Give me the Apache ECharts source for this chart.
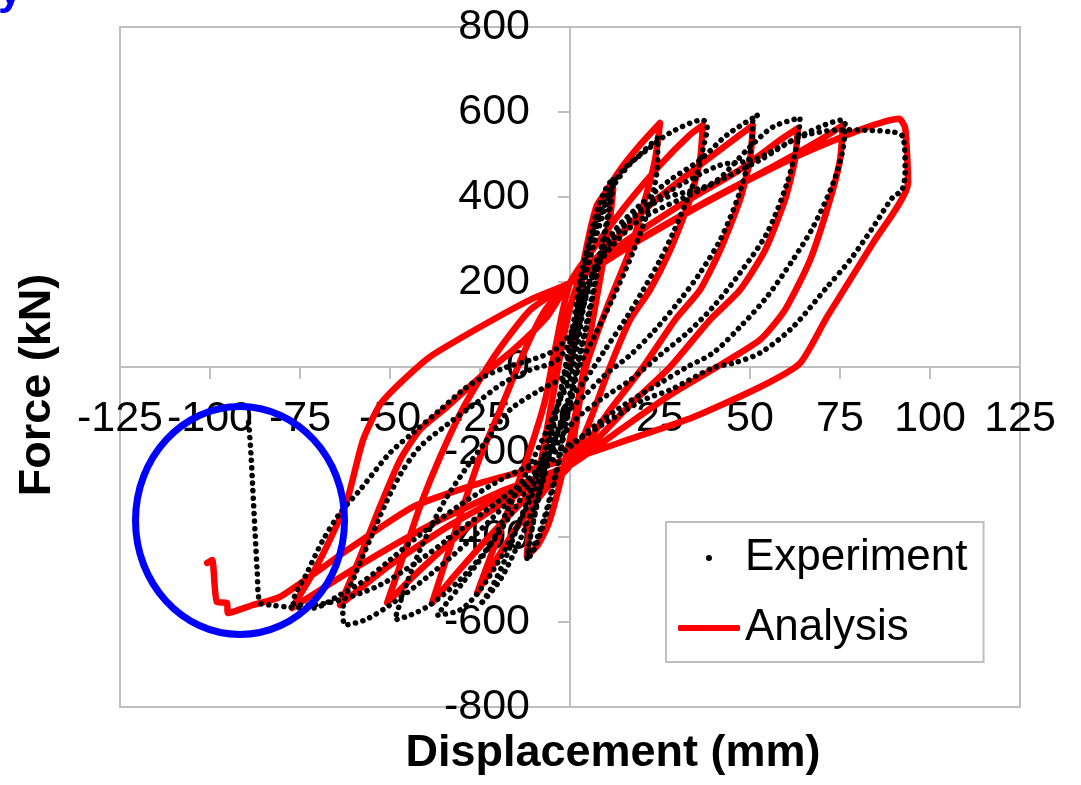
<!DOCTYPE html>
<html>
<head>
<meta charset="utf-8">
<script src="https://cdn.jsdelivr.net/npm/echarts@6/dist/echarts.min.js"></script>
<style>
html,body{margin:0;padding:0;background:#fff;}
#main{width:1081px;height:785px;}
</style>
</head>
<body>
<div id="main"></div>
<script>
// Axis ticks
const xTicks = [-125, -100, -75, -50, -25, 0, 25, 50, 75, 100, 125];
const yTicks = [-800, -600, -400, -200, 0, 200, 400, 600, 800];

// Experiment (displacement mm, force kN)
const experiment = [
  [0,0],[2,120],[4,240],[6,320],[8,380],[10,420],[12,445],
  [11,380],[8,250],[5,120],[2,0],[-1,-120],[-4,-250],[-7,-350],[-10,-420],[-12,-450],
  [-11,-400],[-8,-280],[-5,-160],[-2,-40],[1,80],[4,200],[7,300],[10,380],[12,430],
  [11,370],[8,240],[5,110],[2,-10],[-1,-130],[-4,-260],[-7,-360],[-10,-430],[-12,-455],
  [-11,-400],[-8,-270],[-5,-150],[-2,-30],[0,60],
  [1.1,111],[2.8,205],[5.6,299],[9.7,393],[15.3,464],[20.8,511],[24.4,539],
  [24.2,464],[21.7,369],[17.2,264],[11.7,158],[6.9,75],[2.8,5],[-0.6,-78],[-4.2,-172],[-8.3,-289],[-13.9,-407],[-19.4,-501],[-25,-560],
  [-22.2,-525],[-18.1,-454],[-13.9,-360],[-9.7,-266],[-6.1,-172],[-2.8,-78],[0,-7],[1.4,87],[3.3,205],[6.1,299],[9.7,381],[13.9,456],[21.4,511],[27.8,551],[36.9,581],
  [38.1,565],[36.9,511],[35.3,456],[32.5,393],[28.6,315],[25,252],[20.3,181],[15.3,111],[9.7,40],[4.2,-31],[0,-78],[-4.2,-172],[-11.1,-313],[-18.1,-431],[-25,-525],[-30.6,-572],[-36.9,-584],
  [-34.7,-560],[-29.2,-501],[-22.2,-419],[-16.7,-325],[-11.1,-231],[-6.4,-148],[-2.8,-78],[0,-31],[1.9,40],[4.2,158],[7.5,252],[12.5,322],[19.4,381],[27.8,440],[36.1,487],[43.6,546],[52.2,593],
  [50.8,581],[50.6,534],[49.2,471],[46.4,393],[41.7,299],[36.1,221],[30.6,158],[23.6,87],[16.7,28],[9.7,-19],[4.2,-66],[0,-101],[-5.6,-195],[-13.9,-313],[-22.2,-419],[-30.6,-501],[-38.9,-560],[-44.4,-584],[-48.6,-595],
  [-48.1,-579],[-45.3,-508],[-41.7,-431],[-38.1,-367],[-34.2,-306],[-28.6,-235],[-23.1,-172],[-16.7,-101],[-8.3,-54],[-1.4,-19],[1.4,52],[4.2,158],[8.3,252],[15.3,334],[25,393],[39.7,433],[49.2,511],[56.4,565],[63.9,586],
  [63.3,534],[60.3,433],[54.7,315],[47.2,221],[39.7,141],[32.5,80],[25,28],[16.7,-31],[8.3,-78],[1.4,-125],[-6.9,-219],[-16.7,-313],[-27.8,-407],[-38.9,-489],[-50,-560],[-56.9,-595],[-62.5,-607],
  [-63.1,-572],[-59.7,-489],[-55.6,-407],[-51.4,-325],[-47.2,-254],[-41.7,-188],[-34.2,-136],[-25,-78],[-18.6,-38],[-11.1,-7],[-3.6,16],[1.4,87],[5.6,205],[11.1,299],[19.4,369],[30.6,428],[41.7,475],[50.8,487],[60.3,527],[69.4,565],[75.8,581],
  [76.4,574],[75.8,511],[73.1,433],[67.5,329],[61.9,252],[54.7,165],[47.2,94],[39.7,33],[32.5,0],[25,-38],[15.8,-85],[6.4,-141],[0,-188],[-8.3,-242],[-19.4,-313],[-30.6,-384],[-41.7,-454],[-52.8,-513],[-63.9,-548],[-72.2,-560],[-76.4,-560],
  [-76.9,-555],[-73.1,-485],[-68.6,-407],[-63.9,-344],[-58.3,-289],[-50,-202],[-43.6,-155],[-36.1,-101],[-29.7,-54],[-24.2,-24],[-17.5,0],[-11.1,16],[-4.2,40],[0.6,87],[4.2,181],[9.7,264],[19.4,346],[36.1,416],[52.8,487],[63.9,541],[75.8,558],[89.7,553],[92.5,541],[93.1,464],[92.2,416],
  [89.7,400],[84.2,329],[77.8,252],[71.4,188],[61.9,94],[52.8,33],[45.3,9],[39.7,-2],[27.8,-54],[20.3,-78],[11.1,-125],[1.9,-172],[-8.3,-219],[-19.4,-266],[-30.6,-325],[-41.7,-395],[-50,-454],[-56.9,-501],[-63.9,-536],[-71.4,-567],[-77.8,-565],[-83.3,-560],[-86.1,-555],
  [-86.9,-478],[-87.5,-384],[-88.1,-289],[-88.6,-207],[-89.2,-136],[-89.4,-125]
];

// Analysis (displacement mm, force kN)
const analysis = [
  [0,0],[2,120],[4,240],[6,330],[8,385],[10,405],[12,420],
  [11,340],[8,190],[5,50],[2,-90],[0,-170],[-3,-280],[-6,-370],[-9,-420],[-12,-445],
  [-11,-360],[-8,-220],[-5,-80],[-2,60],[0,140],[3.3,230],[5.6,322],[7.5,381],[9.7,409],[13.9,464],[19.4,522],[25,574],
  [23.6,487],[20.8,393],[16.7,275],[11.1,158],[6.9,64],[4.2,-7],[1.4,-148],[0,-231],
  [-6.9,-289],[-15.3,-384],[-22.2,-478],[-25.8,-532],
  [-21.4,-431],[-15.8,-306],[-11.1,-195],[-6.9,-78],[-4.2,40],[0,198],
  [8.3,299],[16.7,393],[25,475],[33.3,546],[36.9,569],
  [36.1,487],[33.3,393],[27.8,275],[22.2,181],[16.7,111],[11.1,0],[5.6,-125],[0,-231],
  [-9.7,-289],[-20.8,-384],[-31.9,-489],[-38.3,-555],
  [-34.2,-447],[-29.7,-329],[-25,-212],[-19.4,-101],[-12.5,40],[-6.9,134],[0,198],
  [11.1,287],[22.2,381],[36.1,475],[47.2,546],[50.8,569],
  [50,487],[47.2,393],[41.7,275],[36.1,181],[29.2,111],[20.3,0],[11.1,-101],[0,-231],
  [-12.5,-289],[-27.8,-372],[-41.7,-478],[-50.8,-555],
  [-46.4,-447],[-41.7,-329],[-36.1,-212],[-29.2,-89],[-20.8,28],[-11.1,134],[0,198],
  [13.9,287],[30.6,381],[47.2,464],[58.3,534],[63.3,562],
  [62.5,487],[59.7,393],[54.2,275],[47.2,181],[38.9,111],[27.8,0],[16.7,-89],[0,-231],
  [-15.3,-289],[-33.3,-372],[-50,-466],[-63.9,-560],
  [-58.3,-447],[-52.8,-329],[-47.2,-219],[-41.7,-148],[-34.2,-94],[-25,-24],[-15.8,40],[-6.4,118],[0,198],
  [16.7,287],[36.1,381],[55.6,468],[69.4,534],[75.8,569],
  [75,487],[72.2,393],[66.7,252],[59.7,134],[52.8,64],[40.8,0],[27.8,-66],[13.9,-148],[0,-231],
  [-18.1,-289],[-38.9,-372],[-58.3,-466],[-77.2,-567],
  [-71.4,-485],[-66.7,-407],[-61.9,-313],[-57.5,-172],[-52.8,-89],[-47.2,-38],[-38.9,24],[-25,94],[-11.1,158],[0,198],
  [19.4,299],[41.7,405],[63.9,499],[80.6,558],[91.4,584],[93.1,562],[93.9,433],
  [84.2,292],[71.4,118],[63.9,9],[52.8,-47],[34.2,-118],[15.8,-172],[1.9,-212],
  [-25,-273],[-43.6,-329],[-61.9,-431],[-80.6,-541],[-88.1,-560],[-95,-579],[-95.3,-555],[-98.1,-553],[-99.4,-454],[-100.8,-461]
];

const FONT = 'Liberation Sans, Arial, Helvetica, sans-serif';
const AXIS_GRAY = '#bfbfbf';

const chart = echarts.init(document.getElementById('main'), null, {renderer: 'canvas'});
chart.setOption({
  animation: false,
  backgroundColor: '#fff',
  grid: {left: 120, top: 27, width: 900, height: 680, show: true, borderColor: AXIS_GRAY, borderWidth: 2},
  xAxis: {
    type: 'value', min: xTicks[0], max: xTicks[xTicks.length - 1], interval: 25,
    position: 'bottom', offset: -340,
    axisLine: {onZero: false, lineStyle: {color: AXIS_GRAY, width: 2}},
    axisTick: {show: true, length: 12, lineStyle: {color: AXIS_GRAY, width: 2}},
    axisLabel: {fontSize: 43, color: '#000', fontFamily: FONT, margin: 31},
    splitLine: {show: false}
  },
  yAxis: {
    type: 'value', min: yTicks[0], max: yTicks[yTicks.length - 1], interval: 200,
    position: 'left', offset: -450,
    axisLine: {onZero: false, lineStyle: {color: AXIS_GRAY, width: 2}},
    axisTick: {show: true, length: 12, lineStyle: {color: AXIS_GRAY, width: 2}},
    axisLabel: {fontSize: 43, color: '#000', fontFamily: FONT, margin: 40},
    splitLine: {show: false}
  },
  legend: {
    orient: 'vertical', left: 666, top: 522,
    padding: [14, 16, 12, 12], itemGap: 26, itemWidth: 62, itemHeight: 6,
    borderColor: AXIS_GRAY, borderWidth: 2, backgroundColor: '#fff',
    textStyle: {fontSize: 44, color: '#000', fontFamily: FONT},
    data: [
      {name: 'Experiment', icon: 'circle', itemStyle: {borderWidth: 0}},
      {name: 'Analysis', icon: 'roundRect', itemStyle: {borderWidth: 0}}
    ]
  },
  series: [
    {
      name: 'Analysis', type: 'line', data: analysis, symbol: 'none', smooth: 0.2,
      color: '#ff0000', itemStyle: {color: '#ff0000'},
      lineStyle: {color: '#ff0000', width: 6.5, cap: 'round', join: 'round'}, z: 2
    },
    {
      name: 'Experiment', type: 'line', data: experiment, symbol: 'none', smooth: 0.3,
      symbolKeepAspect: true,
      color: '#000', itemStyle: {color: '#000'},
      lineStyle: {color: '#000', width: 5.5, type: [0.1, 7.5], cap: 'round'}, z: 3
    }
  ],
  graphic: [
    {type: 'ellipse', shape: {cx: 240, cy: 520.5, rx: 104.5, ry: 114}, style: {fill: 'none', stroke: '#0000ff', lineWidth: 7}, z: 100},
    {type: 'text', x: 38, y: 385, rotation: Math.PI / 2, style: {text: 'Force (kN)', fontSize: 45, fontWeight: 'bold', fontFamily: FONT, fill: '#000', align: 'center', verticalAlign: 'middle'}},
    {type: 'text', x: 613, y: 754, style: {text: 'Displacement (mm)', fontSize: 45, fontWeight: 'bold', fontFamily: FONT, fill: '#000', align: 'center', verticalAlign: 'middle'}},
    {type: 'text', x: -2, y: 14, style: {text: 'y', fontSize: 44, fontWeight: 'bold', fontFamily: FONT, fill: '#0000ff', align: 'left', verticalAlign: 'bottom'}}
  ]
});
</script>
</body>
</html>
